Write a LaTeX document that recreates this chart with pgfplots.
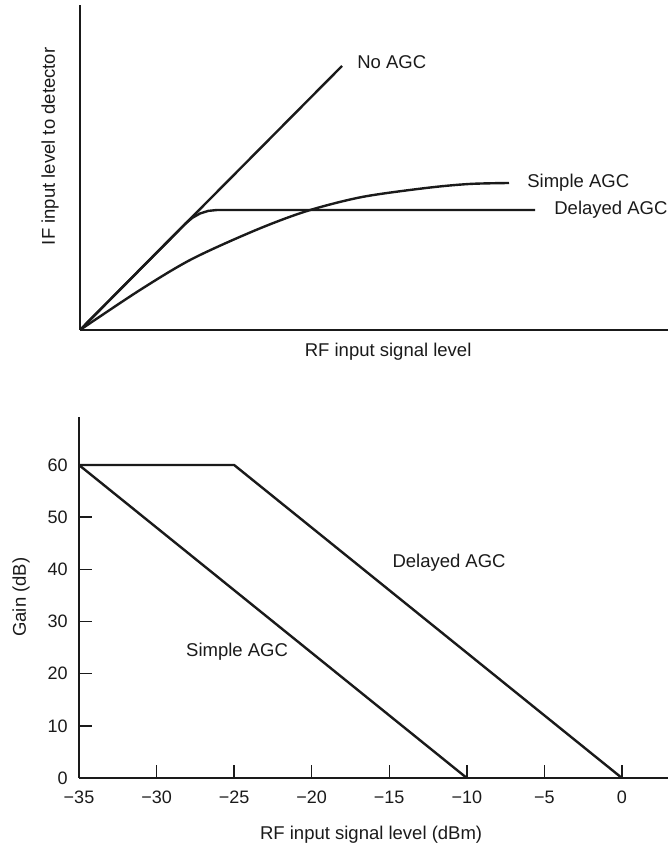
\documentclass[border=0pt]{standalone}
\usepackage{fontspec}
\setmainfont{Liberation Sans}
\usepackage{pgfplots}
\pgfplotsset{compat=1.18}
\definecolor{ink}{HTML}{1A1A1A}
\begin{document}
\fontsize{18.5}{22}\selectfont
\begin{tikzpicture}
\path[use as bounding box] (0,0) rectangle (668pt,847pt);
% ---------- top plot ----------
\begin{axis}[
  at={(80pt,517pt)}, anchor=south west,
  scale only axis, width=588pt, height=325pt,
  xmin=0, xmax=588, ymin=0, ymax=325,
  axis lines*=left,
  axis line style={line width=1.8pt, ink},
  xtick=\empty, ytick=\empty,
  clip=false,
]
\addplot[ink, line width=2.4pt, line join=round] coordinates {(0,0) (262,264)};
\addplot[ink, line width=2.4pt, line join=round] coordinates {
  (0,0) (105,106) (112.25,112.1) (120,116.5) (128.25,119.1) (137,120) (455,120)};
\addplot[ink, line width=2.4pt, smooth, line join=round] coordinates {
  (0,0) (60,40) (112,71) (176,100) (227,119) (282,133) (346,142) (389,146) (429,147)};
\node[anchor=west, text=ink] at (axis cs:271,268) {No AGC};
\node[anchor=west, text=ink] at (axis cs:441,147) {Simple AGC};
\node[anchor=west, text=ink] at (axis cs:468,120) {Delayed AGC};
\node[rotate=90, text=ink] at (rel axis cs:-0.051,0.565) {IF input level to detector};
\node[text=ink] at (rel axis cs:0.524,-0.068) {RF input signal level};
\end{axis}
% ---------- bottom plot ----------
\begin{axis}[
  at={(79pt,69pt)}, anchor=south west,
  scale only axis, width=589pt, height=361pt,
  xmin=-35, xmax=2.97, ymin=0, ymax=69.2,
  axis lines*=left,
  axis line style={line width=1.8pt, ink},
  tick align=inside,
  major tick length=13pt,
  tick style={line width=1.4pt, ink},
  xtick={-35,-30,-25,-20,-15,-10,-5,0},
  xticklabels={−35,−30,−25,−20,−15,−10,−5,0},
  ytick={0,10,20,30,40,50,60},
  /pgf/number format/assume math mode=true,
  tick label style={font=\fontsize{18}{20}\selectfont, text=ink},
  yticklabel style={xshift=-5pt},
  xticklabel style={yshift=-7pt},
  clip=false,
]
\addplot[ink, line width=2.4pt, line join=round] coordinates {(-35,60) (-25,60) (0,0)};
\addplot[ink, line width=2.4pt, line join=round] coordinates {(-35,60) (-10,0)};
\node[anchor=west, text=ink] at (axis cs:-15.2,41.3) {Delayed AGC};
\node[anchor=west, text=ink] at (axis cs:-28.5,24.2) {Simple AGC};
\node[rotate=90, text=ink] at (rel axis cs:-0.0985,0.501) {Gain (dB)};
\node[text=ink] at (rel axis cs:0.496,-0.158) {RF input signal level (dBm)};
\end{axis}
\end{tikzpicture}
\end{document}
